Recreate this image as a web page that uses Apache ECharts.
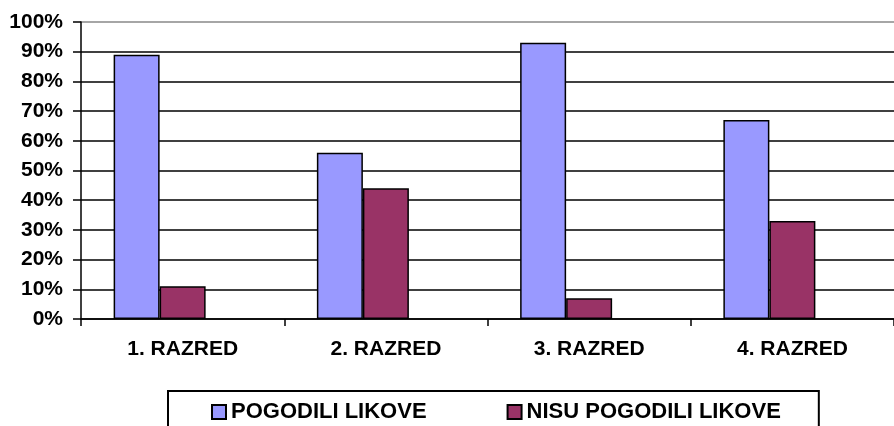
<!DOCTYPE html>
<html>
<head>
<meta charset="utf-8">
<script src="https://cdn.jsdelivr.net/npm/echarts@6/dist/echarts.min.js"></script>
<style>
  html, body { margin: 0; padding: 0; background: #fff; }
  #chart { width: 894px; height: 426px; }
</style>
</head>
<body>
<div id="chart"></div>
<script>
const categories = ['1. RAZRED', '2. RAZRED', '3. RAZRED', '4. RAZRED'];
const seriesNames = ['POGODILI LIKOVE', 'NISU POGODILI LIKOVE'];
const pogodiliValues = [89, 56, 93, 67];
const nisuPogodiliValues = [11, 44, 7, 33];
const spacerValues = [null, null, null, null];
const yTicks = [0, 10, 20, 30, 40, 50, 60, 70, 80, 90, 100];

const FONT = '"Liberation Sans", Arial, sans-serif';
const chart = echarts.init(document.getElementById('chart'), null, { renderer: 'canvas' });

const gridColors = yTicks.map((v, i) => (i === yTicks.length - 1 ? '#888888' : '#000000'));

chart.setOption({
  animation: false,
  backgroundColor: '#ffffff',
  textStyle: { fontFamily: FONT },
  grid: { left: 81, top: 22, bottom: 107, width: 820, containLabel: false },
  legend: {
    data: seriesNames,
    left: 168,
    top: 391,
    padding: [10, 38, 12, 43],
    borderColor: '#000',
    borderWidth: 2,
    itemWidth: 14,
    itemHeight: 14,
    itemGap: 80,
    icon: 'rect',
    textStyle: { fontFamily: FONT, fontSize: 22, fontWeight: 'bold', color: '#000' }
  },
  xAxis: {
    type: 'category',
    data: categories,
    axisLine: { lineStyle: { color: '#000', width: 1.5 } },
    axisTick: { show: true, length: 7, lineStyle: { color: '#000', width: 1.5 } },
    axisLabel: { margin: 20, fontFamily: FONT, fontSize: 21, fontWeight: 'bold', color: '#000' }
  },
  yAxis: {
    type: 'value',
    min: 0,
    max: 100,
    interval: 10,
    axisLine: { show: true, lineStyle: { color: '#000', width: 1.5 } },
    axisTick: { show: true, length: 8, lineStyle: { color: '#000', width: 1.5 } },
    axisLabel: { margin: 18, formatter: '{value}%', fontFamily: FONT, fontSize: 21, fontWeight: 'bold', color: '#000' },
    splitLine: { show: true, lineStyle: { color: gridColors, width: 1.5 } }
  },
  series: [
    {
      name: seriesNames[0], type: 'bar', data: pogodiliValues,
      barWidth: 46, barGap: '0%',
      itemStyle: { color: '#9999FF', borderColor: '#000', borderWidth: 1.5 }
    },
    {
      name: seriesNames[1], type: 'bar', data: nisuPogodiliValues,
      barWidth: 46, barGap: '0%',
      itemStyle: { color: '#993366', borderColor: '#000', borderWidth: 1.5 }
    },
    {
      name: 'spacer', type: 'bar', data: spacerValues,
      barWidth: 46, barGap: '0%',
      itemStyle: { color: 'transparent' }
    }
  ]
});
</script>
</body>
</html>
